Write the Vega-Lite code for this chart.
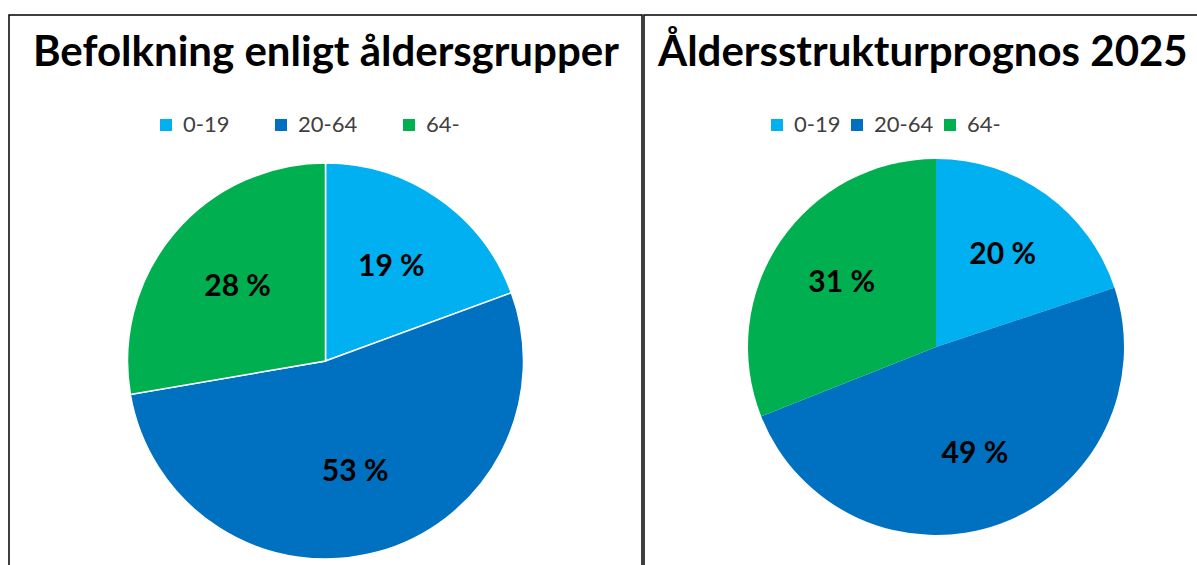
{
  "$schema": "https://vega.github.io/schema/vega-lite/v6.json",
  "padding": {"left": 8, "top": 14, "right": 0, "bottom": 0},
  "background": "white",
  "spacing": 0,
  "config": {"view": {"stroke": "black", "strokeWidth": 1.5}, "font": "Lato"},
  "resolve": {"legend": {"color": "independent"}},
  "datasets": {
    "now": [
      {"group": "0-19", "idx": 1, "share": 19.4, "label": "19 %"},
      {"group": "20-64", "idx": 2, "share": 52.9, "label": "53 %"},
      {"group": "64-", "idx": 3, "share": 27.7, "label": "28 %"}
    ],
    "prog": [
      {"group": "0-19", "idx": 1, "share": 19.9, "label": "20 %"},
      {"group": "20-64", "idx": 2, "share": 49.1, "label": "49 %"},
      {"group": "64-", "idx": 3, "share": 31.0, "label": "31 %"}
    ]
  },
  "hconcat": [
    {
      "width": 633,
      "height": 692,
      "view": {"stroke": "black", "strokeWidth": 1.5, "fill": "white"},
      "data": {"name": "now"},
      "title": {"text": "Befolkning enligt åldersgrupper", "anchor": "start", "frame": "group", "dx": 24, "dy": 93, "offset": 0, "baseline": "alphabetic", "fontSize": 42, "fontWeight": "bold", "font": "Lato", "color": "black"},
      "layer": [
        {
          "mark": {"type": "arc", "radius": 198, "stroke": "white", "strokeWidth": 1.5},
          "encoding": {
            "theta": {"field": "share", "type": "quantitative", "stack": true},
            "order": {"field": "idx", "type": "quantitative"},
            "color": {"field": "group", "type": "nominal",
              "scale": {"domain": ["0-19", "20-64", "64-"], "range": ["#00B0F0", "#0070C0", "#00B050"]},
              "legend": {"orient": "none", "legendX": 146, "legendY": 99, "direction": "horizontal", "title": null, "symbolType": "square", "symbolSize": 144, "symbolStrokeWidth": 0, "labelFontSize": 22, "labelFont": "Lato", "labelColor": "#404040", "columnPadding": 40, "labelOffset": 6}}
          }
        },
        {
          "mark": {"type": "text", "radius": 115, "fontSize": 30, "fontWeight": "bold", "font": "Lato", "color": "black"},
          "encoding": {
            "theta": {"field": "share", "type": "quantitative", "stack": true},
            "order": {"field": "idx", "type": "quantitative"},
            "text": {"field": "label", "type": "nominal"}
          }
        }
      ]
    },
    {
      "width": 584,
      "height": 664,
      "view": {"stroke": "black", "strokeWidth": 1.5, "fill": "white"},
      "data": {"name": "prog"},
      "title": {"text": "Åldersstrukturprognos  2025", "anchor": "start", "frame": "group", "dx": 14, "dy": 93, "offset": 0, "baseline": "alphabetic", "fontSize": 42, "fontWeight": "bold", "font": "Lato", "color": "black"},
      "layer": [
        {
          "mark": {"type": "arc", "radius": 188},
          "encoding": {
            "theta": {"field": "share", "type": "quantitative", "stack": true},
            "order": {"field": "idx", "type": "quantitative"},
            "color": {"field": "group", "type": "nominal",
              "scale": {"domain": ["0-19", "20-64", "64-"], "range": ["#00B0F0", "#0070C0", "#00B050"]},
              "legend": {"orient": "none", "legendX": 122, "legendY": 99, "direction": "horizontal", "title": null, "symbolType": "square", "symbolSize": 144, "symbolStrokeWidth": 0, "labelFontSize": 22, "labelFont": "Lato", "labelColor": "#404040", "columnPadding": 5, "labelOffset": 6}}
          }
        },
        {
          "mark": {"type": "text", "radius": 114, "fontSize": 30, "fontWeight": "bold", "font": "Lato", "color": "black"},
          "encoding": {
            "theta": {"field": "share", "type": "quantitative", "stack": true},
            "order": {"field": "idx", "type": "quantitative"},
            "text": {"field": "label", "type": "nominal"}
          }
        }
      ]
    }
  ]
}
